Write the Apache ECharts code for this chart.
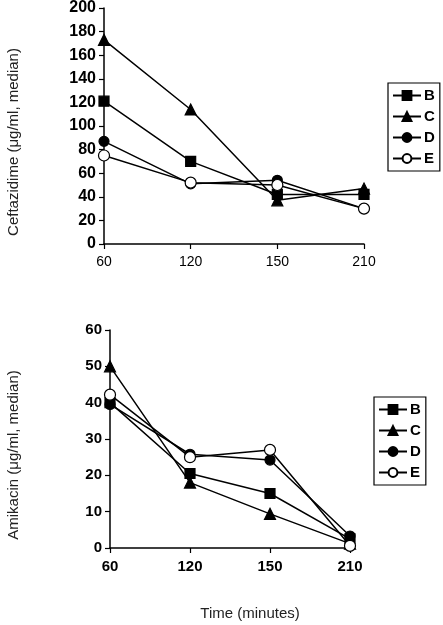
<!DOCTYPE html>
<html><head><meta charset="utf-8">
<script src="https://cdn.jsdelivr.net/npm/echarts@6/dist/echarts.min.js"></script>
<style>html,body{margin:0;padding:0;background:#fff}#c{width:443px;height:625px}</style>
</head><body><div id="c"></div>
<script>
var times = ['60', '120', '150', '210'];
var groups = ['B', 'C', 'D', 'E'];
var cefB = [121, 70, 42, 42];
var cefC = [173, 114, 37, 47];
var cefD = [87, 51, 54, 30];
var cefE = [75, 52, 50, 30];
var amiB = [40, 20.5, 15, 2.5];
var amiC = [50, 18, 9.4, 1.2];
var amiD = [39.5, 25.8, 24.2, 3.3];
var amiE = [42.2, 25, 27, 0.6];

var symbols = {B: 'rect', C: 'triangle', D: 'circle', E: 'circle'};
var fills = {B: '#000', C: '#000', D: '#000', E: '#fff'};
var sizes = {B: 10, C: 11, D: 10, E: 11};
var cef = {B: cefB, C: cefC, D: cefD, E: cefE};
var ami = {B: amiB, C: amiC, D: amiD, E: amiE};

var font = 'Liberation Sans, Arial, sans-serif';
function xAxis(gi, bold, size) {
  return {type: 'category', gridIndex: gi, data: times, boundaryGap: false,
    axisLine: {lineStyle: {color: '#000', width: 1.5}},
    axisTick: {alignWithLabel: true, length: 5, lineStyle: {color: '#000', width: 1.2}},
    axisLabel: {color: '#000', fontWeight: bold ? 'bold' : 'normal', fontSize: size, fontFamily: font, margin: 11},
    splitLine: {show: false}};
}
function yAxis(gi, max, interval, size) {
  return {type: 'value', gridIndex: gi, min: 0, max: max, interval: interval,
    axisLine: {show: true, lineStyle: {color: '#000', width: 1.5}},
    axisTick: {show: true, length: 5, lineStyle: {color: '#000', width: 1.2}},
    axisLabel: {color: '#000', fontWeight: 'bold', fontSize: size, fontFamily: font, margin: 8},
    splitLine: {show: false}};
}
var series = [];
groups.forEach(function (g) {
  [[0, cef[g]], [1, ami[g]]].forEach(function (p) {
    series.push({name: g, type: 'line', xAxisIndex: p[0], yAxisIndex: p[0], data: p[1],
      symbol: symbols[g], symbolSize: sizes[g], showSymbol: true,
      lineStyle: {color: '#000', width: 1.5},
      itemStyle: {color: fills[g], borderColor: '#000', borderWidth: 1.2},
      emphasis: {disabled: true}, animation: false, z: g === 'E' ? 3 : 2});
  });
});
function legend(left, top) {
  return {data: groups, orient: 'vertical', left: left, top: top, itemGap: 6,
    itemWidth: 28, itemHeight: 11, padding: [5, 5, 5, 4],
    borderColor: '#000', borderWidth: 1.2, backgroundColor: '#fff',
    textStyle: {color: '#000', fontWeight: 'bold', fontSize: 15, fontFamily: font, padding: [0, 0, 0, -2]},
    selectedMode: false};
}
var chart = echarts.init(document.getElementById('c'), null, {renderer: 'canvas'});
chart.setOption({
  backgroundColor: '#fff',
  animation: false,
  grid: [
    {left: 104, top: 8, width: 260, height: 236},
    {left: 110, top: 330, width: 240, height: 218}
  ],
  xAxis: [xAxis(0, false, 14), xAxis(1, true, 15)],
  yAxis: [yAxis(0, 200, 20, 16), yAxis(1, 60, 10, 15)],
  legend: [legend(388, 83), legend(374, 397)],
  series: series,
  graphic: [
    {type: 'text', x: 14, y: 142, rotation: Math.PI / 2, style: {text: 'Ceftazidime (μg/ml, median)', fill: '#222', font: '15px ' + font, textAlign: 'center', textVerticalAlign: 'middle'}},
    {type: 'text', x: 14, y: 455, rotation: Math.PI / 2, style: {text: 'Amikacin (μg/ml, median)', fill: '#222', font: '15px ' + font, textAlign: 'center', textVerticalAlign: 'middle'}},
    {type: 'text', x: 250, y: 614, style: {text: 'Time (minutes)', fill: '#222', font: '15px ' + font, textAlign: 'center', textVerticalAlign: 'middle'}}
  ]
});
</script></body></html>
